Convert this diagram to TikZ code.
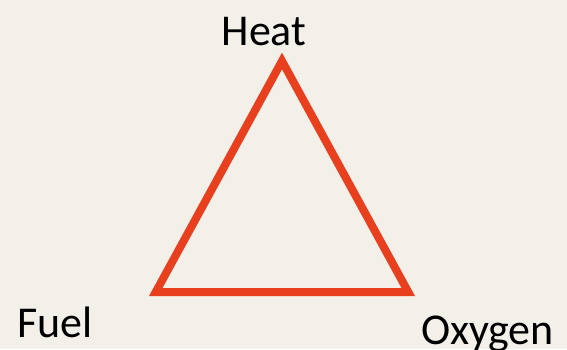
\documentclass[tikz,border=0pt]{standalone}
\usepackage{fontspec}
\setmainfont{Carlito}
\definecolor{bg}{HTML}{F3EFE9}
\definecolor{fire}{HTML}{E8401F}
\begin{document}
\begin{tikzpicture}[x=1pt,y=1pt,
  lbl/.style={inner sep=0pt,font=\fontsize{44}{50}\selectfont,text=black}]
\fill[bg] (0,0) rectangle (567,349);
\useasboundingbox (0,0) rectangle (567,349);
\coordinate (top) at (282,288);
\coordinate (bl) at (155.75,57);
\coordinate (br) at (408.25,57);
\draw[fire,line width=8pt,miter limit=10] (top) -- (br) -- (bl) -- cycle;
\node[lbl,anchor=base] (heat) at (264,304) {Heat};
\node[lbl,anchor=base west] (fuel) at (17,12) {Fuel};
\node[lbl,anchor=base west] (oxy) at (421,5) {Oxygen};
\end{tikzpicture}
\end{document}
